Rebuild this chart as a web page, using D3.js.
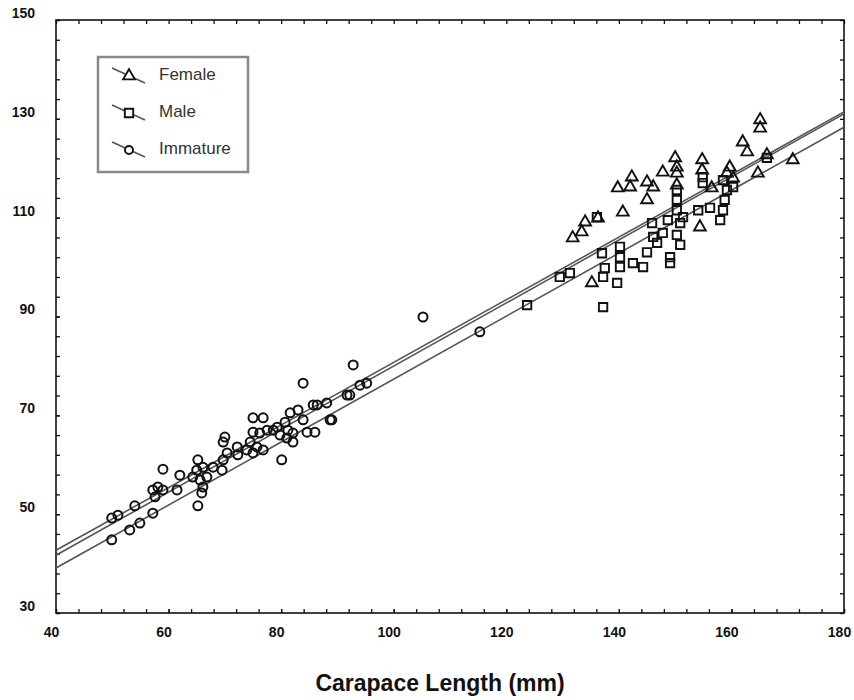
<!DOCTYPE html>
<html>
<head>
<meta charset="utf-8">
<script src="https://cdnjs.cloudflare.com/ajax/libs/d3/7.8.5/d3.min.js"></script>
<style>
  body { margin: 0; background: #fff; }
  text { font-family: "Liberation Sans", Arial, sans-serif; fill: #111; }
</style>
</head>
<body>
<div id="viz"></div>
<script>
// tick labels
var xTicks = [40, 60, 80, 100, 120, 140, 160, 180];
var yTicks = [30, 50, 70, 90, 110, 130, 150];

// immature crabs [length, width]
var immature = [
  [49.9,49.2],[51.0,49.8],[49.9,44.8],[53.1,46.8],[54.0,51.7],[54.9,48.2],[57.2,50.2],
  [57.2,54.9],[58.1,55.5],[57.6,53.5],[59.0,54.9],[59.0,59.1],[62.0,57.9],[61.5,54.9],
  [65.2,61.0],[65.0,58.9],[66.1,59.5],[65.6,56.9],[66.8,57.5],[64.3,57.5],[66.1,55.5],
  [65.9,54.3],[65.2,51.7],[67.9,59.5],[69.7,61.0],[69.5,58.9],[70.4,62.4],[70.0,65.6],
  [69.7,64.6],[72.2,63.6],[72.3,62.0],[73.9,63.0],[75.0,69.5],[76.8,69.5],[75.0,66.6],
  [76.2,66.4],[77.5,67.0],[74.5,64.6],[75.7,63.6],[76.8,63.0],[78.6,67.0],[75.0,62.4],
  [80.1,61.0],[79.3,67.6],[80.7,68.6],[81.2,67.0],[82.1,66.4],[81.0,65.4],[79.8,66.0],
  [82.1,64.6],[81.6,70.5],[83.0,71.1],[83.9,69.1],[84.6,66.6],[86.0,66.6],[86.4,72.1],
  [88.1,72.5],[89.0,69.1],[92.2,74.1],[94.0,76.1],[95.2,76.5],[83.9,76.5],[92.8,80.2],
  [91.7,74.1],[85.7,72.1],[88.7,69.1],[105.2,89.9],[115.3,86.9]
];

// females
var female = [
  [165.1,129.8],[165.1,128.1],[162.0,125.3],[162.8,123.3],[166.3,122.7],[170.9,121.7],
  [164.7,119.0],[159.7,120.2],[154.8,121.7],[154.8,119.6],[150.0,122.1],[150.3,120.2],
  [150.3,119.0],[147.8,119.2],[145.0,117.2],[146.1,116.2],[142.3,118.2],[142.0,116.2],
  [139.8,116.0],[145.0,113.6],[140.7,111.1],[136.3,109.9],[134.0,109.1],[131.8,105.9],
  [133.4,107.1],[154.4,108.1],[135.2,96.8],[156.5,116.0],[150.3,116.6],[159.2,119.0],
  [160.3,118.0]
];

// males
var male = [
  [136.1,110.1],[137.0,102.8],[137.5,99.8],[137.2,98.0],[140.2,104.1],[140.2,102.0],
  [140.2,100.0],[139.7,96.8],[137.2,91.9],[123.7,92.3],[129.5,98.0],[131.3,98.8],
  [142.5,100.8],[144.3,100.0],[145.9,108.9],[146.1,106.1],[145.0,103.0],[146.8,104.9],
  [147.8,106.9],[150.3,115.6],[150.3,113.6],[150.3,111.5],[148.7,109.5],[150.9,108.9],
  [150.3,106.5],[150.9,104.5],[149.1,102.0],[149.1,100.8],[151.4,110.1],[154.1,111.5],
  [156.2,112.0],[154.9,117.0],[154.9,118.2],[158.5,117.6],[159.2,115.6],[158.8,113.6],
  [158.5,111.5],[158.0,109.5],[160.3,116.2],[166.3,122.1]
];

// fitted lines, end points at the axis limits
var femaleFit   = [[40, 42.7], [180, 131.4]];
var maleFit     = [[40, 41.7], [180, 131.0]];
var immatureFit = [[40, 39.1], [180, 128.3]];

var width = 854,
    height = 700,
    pL = 56, pR = 844, pT = 20, pB = 613;

var x = d3.scaleLinear().domain([40, 180]).range([pL, pR]);
var y = d3.scaleLinear().domain([30, 150]).range([pB, pT]);

var svg = d3.select("#viz").append("svg")
    .attr("width", width)
    .attr("height", height);

svg.append("clipPath").attr("id", "clip")
  .append("rect")
    .attr("x", pL).attr("y", pT)
    .attr("width", pR - pL).attr("height", pB - pT);

var minorX = d3.range(40, 181, 4),
    minorY = d3.range(30, 151, 4);

// axes, ticks inward on all four sides
var xa = svg.append("g")
    .attr("transform", "translate(0," + pB + ")")
    .call(d3.axisBottom(x).tickValues(minorX.concat(xTicks)).tickSizeInner(-4).tickSizeOuter(0).tickPadding(14)
      .tickFormat(function(d, i) { return i >= minorX.length ? d : ""; }));
xa.selectAll("text").attr("transform", "translate(-5,0)");

svg.append("g")
    .attr("transform", "translate(0," + pT + ")")
    .call(d3.axisTop(x).tickValues(minorX).tickSizeInner(-4).tickSizeOuter(0).tickFormat(""));

var ya = svg.append("g")
    .attr("transform", "translate(" + pL + ",0)")
    .call(d3.axisLeft(y).tickValues(minorY.concat(yTicks)).tickSizeInner(-4).tickSizeOuter(0).tickPadding(21)
      .tickFormat(function(d, i) { return i >= minorY.length ? d : ""; }));
ya.selectAll("text").attr("transform", "translate(0,-7)");

svg.append("g")
    .attr("transform", "translate(" + pR + ",0)")
    .call(d3.axisRight(y).tickValues(minorY).tickSizeInner(-4).tickSizeOuter(0).tickFormat(""));

svg.selectAll(".domain").remove();
svg.selectAll(".tick line").attr("stroke", "#111").attr("stroke-width", 1.3);
svg.selectAll(".tick text")
    .style("font-size", "14px")
    .style("font-weight", "bold")
    .style("fill", "#111");

svg.append("rect")
    .attr("x", pL).attr("y", pT)
    .attr("width", pR - pL).attr("height", pB - pT)
    .attr("fill", "none")
    .attr("stroke", "#111")
    .attr("stroke-width", 1.6);

// regression lines
var line = d3.line()
    .x(function(d) { return x(d[0]); })
    .y(function(d) { return y(d[1]); });

svg.append("g").attr("clip-path", "url(#clip)")
  .selectAll("path")
  .data([femaleFit, maleFit, immatureFit])
  .enter().append("path")
    .attr("d", line)
    .attr("fill", "none")
    .attr("stroke", "#555")
    .attr("stroke-width", 1.6);

// markers
var tri = d3.symbol().type(d3.symbolTriangle).size(60),
    sq  = d3.symbol().type(d3.symbolSquare).size(70);

function markers(data, kind) {
  var g = svg.append("g").attr("class", kind);
  if (kind == "immature") {
    g.selectAll("circle").data(data).enter().append("circle")
      .attr("cx", function(d) { return x(d[0]); })
      .attr("cy", function(d) { return y(d[1]); })
      .attr("r", 4.5)
      .attr("fill", "none")
      .attr("stroke", "#111")
      .attr("stroke-width", 2);
  } else {
    g.selectAll("path").data(data).enter().append("path")
      .attr("transform", function(d) { return "translate(" + x(d[0]) + "," + y(d[1]) + ")"; })
      .attr("d", kind == "female" ? tri : sq)
      .attr("fill", "none")
      .attr("stroke", "#111")
      .attr("stroke-width", 1.9);
  }
}
markers(immature, "immature");
markers(male, "male");
markers(female, "female");

// legend
var legend = svg.append("g");
legend.append("rect")
    .attr("x", 98).attr("y", 57)
    .attr("width", 150).attr("height", 115)
    .attr("fill", "#fff")
    .attr("stroke", "#888")
    .attr("stroke-width", 2.5);

var entries = [
  {name: "Female", kind: "female", cy: 76},
  {name: "Male", kind: "male", cy: 113},
  {name: "Immature", kind: "immature", cy: 150}
];

entries.forEach(function(e) {
  legend.append("line")
    .attr("x1", 112).attr("y1", e.cy - 8)
    .attr("x2", 145).attr("y2", e.cy + 7)
    .attr("stroke", "#555")
    .attr("stroke-width", 1.6);
  if (e.kind == "immature") {
    legend.append("circle")
      .attr("cx", 129).attr("cy", e.cy).attr("r", 4)
      .attr("fill", "#fff").attr("stroke", "#111").attr("stroke-width", 1.9);
  } else {
    legend.append("path")
      .attr("transform", "translate(129," + e.cy + ")")
      .attr("d", e.kind == "female" ? tri : sq)
      .attr("fill", "#fff").attr("stroke", "#111").attr("stroke-width", 1.9);
  }
  legend.append("text")
    .attr("x", 159).attr("y", e.cy)
    .attr("dominant-baseline", "middle")
    .style("font-size", "17px")
    .style("fill", "#333")
    .text(e.name);
});

// axis title
svg.append("text")
    .attr("x", 440).attr("y", 691)
    .attr("text-anchor", "middle")
    .style("font-size", "23px")
    .style("font-weight", "bold")
    .text("Carapace Length (mm)");
</script>
</body>
</html>
